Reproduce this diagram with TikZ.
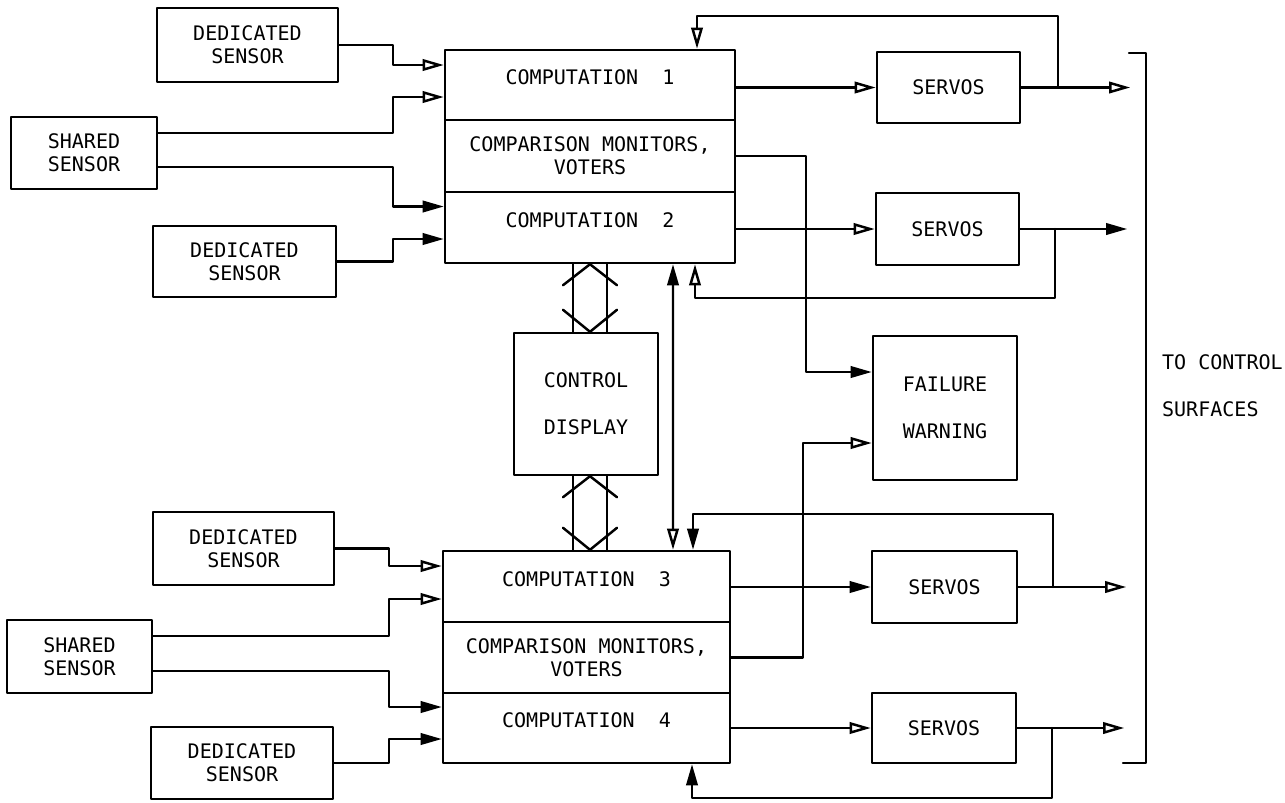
\documentclass[tikz,border=0pt]{standalone}
\usepackage{fontspec}
\newfontfamily\leroy{DejaVu Sans Mono}
\usetikzlibrary{arrows.meta,calc}
\tikzset{
    blk/.style={
        draw, line width=1.4pt, inner sep=0pt, align=center,
        font=\leroy\fontsize{11.4}{13}\selectfont
    },
    tall/.style={font=\leroy\fontsize{11.4}{26.7}\selectfont},
    comp/.style={text depth=9pt},
    oarr/.style={-{Triangle[open, length=12pt, width=6.5pt]}},
    farr/.style={-{Triangle[length=12pt, width=6.5pt]}}
}

\begin{document}
\begin{tikzpicture}[x=0.02cm, y=-0.02cm, line width=1.4pt, line cap=round, line join=round]

\useasboundingbox (0,0) rectangle (1285,802);

% upper channel pair
\node[blk, minimum width=3.62cm, minimum height=1.48cm] (ded1) at (247.5,45) {DEDICATED\\SENSOR};
\node[blk, minimum width=2.92cm, minimum height=1.44cm] (sh1) at (84,153) {SHARED\\SENSOR};
\node[blk, minimum width=3.66cm, minimum height=1.42cm] (ded2) at (244.5,261.5) {DEDICATED\\SENSOR};

\node[blk, comp, minimum width=5.8cm, minimum height=1.4cm] (compA) at (590,85) {COMPUTATION~~1};
\node[blk, minimum width=5.8cm, minimum height=1.44cm] (cmpA) at (590,156) {COMPARISON MONITORS,\\VOTERS};
\node[blk, comp, minimum width=5.8cm, minimum height=1.42cm] (compB) at (590,227.5) {COMPUTATION~~2};

\node[blk, minimum width=2.86cm, minimum height=1.42cm] (servo1) at (948.5,87.5) {SERVOS};
\node[blk, minimum width=2.86cm, minimum height=1.44cm] (servo2) at (947.5,229) {SERVOS};

% middle
\node[blk, tall, minimum width=2.88cm, minimum height=2.84cm] (disp) at (586,404) {CONTROL\\DISPLAY};
\node[blk, tall, minimum width=2.88cm, minimum height=2.88cm] (warn) at (945,408) {FAILURE\\WARNING};

% lower channel pair
\node[blk, minimum width=3.62cm, minimum height=1.46cm] (ded3) at (243.5,548.5) {DEDICATED\\SENSOR};
\node[blk, minimum width=2.9cm, minimum height=1.46cm] (sh2) at (79.5,656.5) {SHARED\\SENSOR};
\node[blk, minimum width=3.64cm, minimum height=1.44cm] (ded4) at (242,763) {DEDICATED\\SENSOR};

\node[blk, comp, minimum width=5.74cm, minimum height=1.42cm] (compC) at (586.5,586.5) {COMPUTATION~~3};
\node[blk, minimum width=5.74cm, minimum height=1.42cm] (cmpB) at (586.5,657.5) {COMPARISON MONITORS,\\VOTERS};
\node[blk, comp, minimum width=5.74cm, minimum height=1.4cm] (compD) at (586.5,728) {COMPUTATION~~4};

\node[blk, minimum width=2.9cm, minimum height=1.44cm] (servo3) at (944.5,587) {SERVOS};
\node[blk, minimum width=2.88cm, minimum height=1.4cm] (servo4) at (944,728) {SERVOS};

% sensor inputs
\draw[oarr] (ded1.east) -- ++(54,0) |- ($(compA.west)+(0,-20)$);
\draw[oarr] ($(sh1.east)+(0,-20)$) -- ++(235,0) |- ($(compA.west)+(0,12)$);
\draw[farr] ($(sh1.east)+(0,14)$) -- ++(235,0) |- ($(compB.west)+(0,-21)$);
\draw[farr] (ded2.east) -- ++(56,0) |- ($(compB.west)+(0,11.5)$);

\draw[oarr] (ded3.east) -- ++(54,0) |- ($(compC.west)+(0,-20.5)$);
\draw[oarr] ($(sh2.east)+(0,-20.5)$) -- ++(236,0) |- ($(compC.west)+(0,12.5)$);
\draw[farr] ($(sh2.east)+(0,14.5)$) -- ++(236,0) |- ($(compD.west)+(0,-21)$);
\draw[farr] (ded4.east) -- ++(55,0) |- ($(compD.west)+(0,11)$);

% computation to servos
\draw[oarr] (compA.east |- servo1.west) -- (servo1.west);
\draw[oarr] (compB.east |- servo2.west) -- (servo2.west);
\draw[farr] (compC.east |- servo3.west) -- (servo3.west);
\draw[oarr] (compD.east |- servo4.west) -- (servo4.west);

% servo outputs
\coordinate (t1) at ($(servo1.east)+(109,0)$);
\coordinate (t2) at ($(servo2.east)+(107,0)$);
\coordinate (t3) at ($(servo3.east)+(108,0)$);
\coordinate (t4) at ($(servo4.east)+(107,0)$);
\draw[oarr] (servo1.east) -- (t1);
\draw[farr] (servo2.east) -- (t2);
\draw[oarr] (servo3.east) -- (t3);
\draw[oarr] (servo4.east) -- (t4);

% servo feedback
\draw[oarr] ($(servo1.east)+(37,0)$) -- ++(0,-71.5) -| ($(compA.north)+(107,0)$);
\draw[oarr] ($(servo2.east)+(35,0)$) -- ++(0,69) -| ($(compB.south)+(105,0)$);
\draw[farr] ($(servo3.east)+(35,0)$) -- ++(0,-73) -| ($(compC.north)+(106.5,0)$);
\draw[farr] ($(servo4.east)+(35,0)$) -- ++(0,70) -| ($(compD.south)+(105.5,0)$);

% cross channel link
\draw[{Triangle[length=12pt, width=6.5pt]}-{Triangle[open, length=12pt, width=6.5pt]}]
    ($(compB.south)+(83,0)$) -- ($(compC.north)+(86.5,0)$);

% monitor outputs
\draw[farr] (cmpA.east) -- ++(70,0) |- ($(warn.west)+(0,-36)$);
\draw[oarr] (cmpB.east) -- ++(72,0) |- ($(warn.west)+(0,35)$);

% display buses
\foreach \a/\b in {compB.south/disp.north, disp.south/compC.north} {
  \coordinate (p) at (\a -| compB.south);
  \coordinate (q) at (\b -| compB.south);
  \draw ($(p)+(-17,0)$) -- ($(q)+(-17,0)$) ($(p)+(17,0)$) -- ($(q)+(17,0)$);
  \draw ($(p)+(-27,21)$) -- (p) -- ($(p)+(27,21)$);
  \draw ($(q)+(-27,-22)$) -- (q) -- ($(q)+(27,-22)$);
}

% control surfaces
\draw (1129,53) -| (1146,763) -- (1123,763);
\node[tall, anchor=west, align=left] (surf) at (1155,386) {TO CONTROL\\SURFACES};

\end{tikzpicture}
\end{document}
